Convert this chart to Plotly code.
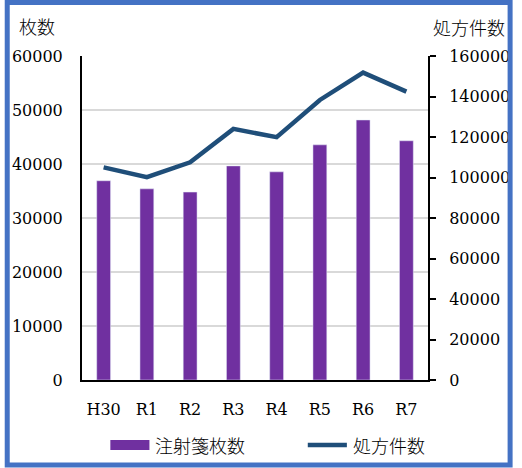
import plotly.graph_objects as go

# data
years = ["H30", "R1", "R2", "R3", "R4", "R5", "R6", "R7"]
sheets = [36900, 35400, 34800, 39650, 38550, 43550, 48150, 44300]      # 注射箋枚数 (left)
prescriptions = [105000, 100200, 107500, 124000, 119900, 138300, 151800, 142400]  # 処方件数 (right)
left_ticks = [0, 10000, 20000, 30000, 40000, 50000, 60000]
right_ticks = [0, 20000, 40000, 60000, 80000, 100000, 120000, 140000, 160000]

BAR_COLOR = "#7030A0"
LINE_COLOR = "#1F4E79"
NUM_FONT = dict(family="DejaVu Serif", size=16, color="black")
JP_FONT = dict(family="Noto Sans CJK JP", size=18, color="black", weight=300)

W, H = 522, 468
ML, MR, MT, MB = 79, 89, 56, 88
PW, PH = W - ML - MR, H - MT - MB


def px_x(x):
    return (x - ML) / PW


def px_y(y):
    return (H - MB - y) / PH


fig = go.Figure()
fig.add_trace(go.Bar(x=years, y=sheets, name="注射箋枚数", marker_color=BAR_COLOR,
                     width=0.32, yaxis="y"))
fig.add_trace(go.Scatter(x=years, y=prescriptions, name="処方件数", mode="lines",
                         line=dict(color=LINE_COLOR, width=4.5), yaxis="y2"))

fig.update_layout(
    width=W, height=H,
    margin=dict(l=ML, r=MR, t=MT, b=MB),
    paper_bgcolor="white", plot_bgcolor="white",
    showlegend=False,
    xaxis=dict(showline=True, linecolor="black", linewidth=2, ticks="",
               tickfont=NUM_FONT, ticklabelstandoff=14, showgrid=False),
    yaxis=dict(range=[0, 60000], tickvals=left_ticks, tickformat="d", showline=True,
               linecolor="black", linewidth=2, ticks="", tickfont=NUM_FONT,
               ticklabelstandoff=14, showgrid=True, gridcolor="#D9D9D9", gridwidth=1.5,
               zeroline=False),
    yaxis2=dict(range=[0, 160000], tickvals=right_ticks, tickformat="d", overlaying="y",
                side="right", showline=True, linecolor="black", linewidth=2,
                ticks="outside", ticklen=6, tickwidth=2, tickcolor="black",
                tickfont=NUM_FONT, ticklabelstandoff=10, showgrid=False, zeroline=False),
)

# axis titles
fig.add_annotation(text="枚数", xref="paper", yref="paper", x=px_x(13), y=px_y(26),
                   xanchor="left", yanchor="middle", showarrow=False, font=JP_FONT)
fig.add_annotation(text="処方件数", xref="paper", yref="paper", x=px_x(436), y=px_y(27),
                   xanchor="left", yanchor="middle", showarrow=False, font=JP_FONT)

# custom legend
fig.add_shape(type="rect", xref="paper", yref="paper", x0=px_x(108), x1=px_x(148),
              y0=px_y(450), y1=px_y(440), fillcolor=BAR_COLOR, line_width=0)
fig.add_annotation(text="注射箋枚数", xref="paper", yref="paper", x=px_x(152), y=px_y(445),
                   xanchor="left", yanchor="middle", showarrow=False, font=JP_FONT)
fig.add_shape(type="line", xref="paper", yref="paper", x0=px_x(310), x1=px_x(350),
              y0=px_y(445), y1=px_y(445), line=dict(color=LINE_COLOR, width=4.5))
fig.add_annotation(text="処方件数", xref="paper", yref="paper", x=px_x(354), y=px_y(445),
                   xanchor="left", yanchor="middle", showarrow=False, font=JP_FONT)

# blue frame around the whole picture
fig.add_shape(type="rect", xref="paper", yref="paper", x0=px_x(2.5), x1=px_x(517),
              y0=px_y(465), y1=px_y(2.5), line=dict(color="#4472C4", width=5),
              fillcolor="rgba(0,0,0,0)", layer="above")

# drop the default page margin / scrollbars so the figure fills the window
fig.write_html("out.html", config={"displayModeBar": False},
               post_script="document.body.style.margin='0';"
                           "document.body.style.overflow='hidden';"
                           "document.documentElement.style.overflow='hidden';")
